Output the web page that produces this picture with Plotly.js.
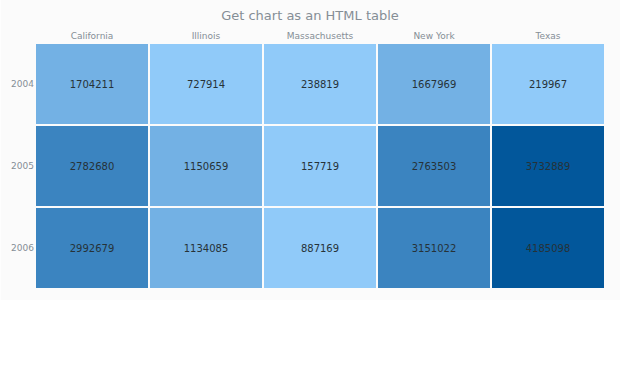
<!DOCTYPE html>
<html><head><meta charset="utf-8">
<script src="https://cdn.plot.ly/plotly-3.0.1.min.js"></script>
<style>html,body{margin:0;padding:0;background:#fff;}#chart{width:620px;height:382px;}</style>
</head><body><div id="chart"></div>
<script>
var states = ["California", "Illinois", "Massachusetts", "New York", "Texas"];
var years = ["2004", "2005", "2006"];
var values2004 = [1704211, 727914, 238819, 1667969, 219967];
var values2005 = [2782680, 1150659, 157719, 2763503, 3732889];
var values2006 = [2992679, 1134085, 887169, 3151022, 4185098];

var c1 = "#90caf9", c2 = "#73b1e4", c3 = "#3b84c0", c4 = "#02579b";
var zmax = 4500000;
var b1 = 1000000 / zmax, b2 = 2000000 / zmax, b3 = 3500000 / zmax;

var trace = {
  type: "heatmap",
  x: states,
  y: years,
  z: [values2004, values2005, values2006],
  zmin: 0, zmax: zmax,
  colorscale: [[0, c1], [b1, c1], [b1, c2], [b2, c2], [b2, c3], [b3, c3], [b3, c4], [1, c4]],
  showscale: false,
  xgap: 2, ygap: 2,
  texttemplate: "%{z:d}",
  textfont: {family: "DejaVu Sans, sans-serif", size: 10, color: "#263238"},
  hoverinfo: "none"
};

var layout = {
  width: 620, height: 382,
  margin: {l: 35, r: 15, t: 43, b: 93},
  paper_bgcolor: "#ffffff",
  plot_bgcolor: "#ffffff",
  title: {text: "Get chart as an HTML table", x: 0.5, xanchor: "center", y: 0.972, yanchor: "top",
          font: {family: "DejaVu Sans, sans-serif", size: 13, color: "#858e96"}},
  xaxis: {side: "top", type: "category", showgrid: false, zeroline: false, showline: false, ticks: "",
          tickfont: {family: "DejaVu Sans, sans-serif", size: 9, color: "#858e96"}, ticklabelstandoff: 1},
  yaxis: {type: "category", autorange: "reversed", showgrid: false, zeroline: false, showline: false, ticks: "",
          tickfont: {family: "DejaVu Sans, sans-serif", size: 9, color: "#858e96"}},
  shapes: [{type: "rect", xref: "paper", yref: "paper", x0: -0.06, x1: 1.03, y0: -0.045, y1: 1.2,
            fillcolor: "#fbfbfb", line: {width: 0}, layer: "below"}],
  font: {family: "DejaVu Sans, sans-serif"}
};

Plotly.newPlot("chart", [trace], layout, {displayModeBar: false, staticPlot: true});
</script>
</body></html>
